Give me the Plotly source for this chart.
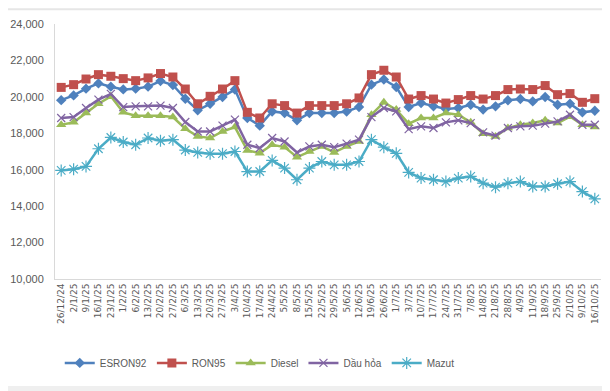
import plotly.graph_objects as go

dates = ["26/12/24", "2/1/25", "9/1/25", "16/1/25", "23/1/25", "1/2/25", "6/2/25", "13/2/25",
         "20/2/25", "27/2/25", "6/3/25", "13/3/25", "20/3/25", "27/3/25", "3/4/25", "10/4/25",
         "17/4/25", "24/4/25", "5/5/25", "8/5/25", "15/5/25", "22/5/25", "29/5/25", "5/6/25",
         "12/6/25", "19/6/25", "26/6/25", "1/7/25", "3/7/25", "10/7/25", "17/7/25", "24/7/25",
         "31/7/25", "7/8/25", "14/8/25", "21/8/25", "28/8/25", "4/9/25", "11/9/25", "18/9/25",
         "25/9/25", "2/10/25", "9/10/25", "16/10/25"]

esron92 = [19820, 20080, 20450, 20740, 20560, 20410, 20450, 20560, 20870, 20650,
           19900, 19260, 19620, 19990, 20400, 18840, 18420, 19200, 19110, 18710,
           19110, 19110, 19110, 19200, 19440, 20670, 20950, 20540, 19440, 19660,
           19480, 19330, 19390, 19570, 19300, 19480, 19810, 19880, 19750, 19990,
           19570, 19620, 19150, 19240]

ron95 = [20520, 20670, 20980, 21220, 21130, 21000, 20890, 21040, 21280, 21090,
         20430, 19620, 20030, 20430, 20890, 19150, 18840, 19620, 19520, 19110,
         19520, 19520, 19520, 19620, 19940, 21220, 21460, 21090, 19880, 20070,
         19880, 19660, 19850, 20070, 19880, 20070, 20400, 20430, 20400, 20620,
         20120, 20180, 19700, 19900]

diesel = [18470, 18600, 19110, 19620, 20030, 19150, 18960, 18960, 18960, 18890,
          18250, 17830, 17740, 18100, 18340, 17060, 16910, 17370, 17240, 16690,
          17000, 17280, 16950, 17280, 17550, 19020, 19700, 19300, 18530, 18840,
          18840, 19110, 19020, 18600, 17980, 17830, 18290, 18470, 18560, 18710,
          18560, 18920, 18470, 18340]

dau_hoa = [18840, 18890, 19390, 19850, 20160, 19440, 19480, 19480, 19520, 19390,
           18620, 18100, 18100, 18420, 18750, 17370, 17190, 17740, 17550, 16950,
           17280, 17370, 17240, 17430, 17650, 18890, 19390, 19200, 18230, 18380,
           18290, 18600, 18710, 18560, 18050, 17870, 18290, 18380, 18420, 18530,
           18650, 19020, 18470, 18470]

mazut = [15960, 16030, 16180, 17150, 17770, 17520, 17370, 17740, 17590, 17650,
         17080, 16950, 16880, 16880, 17000, 15900, 15900, 16510, 16090, 15450,
         16090, 16450, 16270, 16270, 16450, 17650, 17240, 16900, 15850, 15540,
         15450, 15350, 15540, 15630, 15260, 15040, 15260, 15350, 15080, 15080,
         15230, 15350, 14800, 14400]

y_ticks = [10000, 12000, 14000, 16000, 18000, 20000, 22000, 24000]

series = [
    ("ESRON92", esron92, "#4F81BD", dict(symbol="diamond", size=8)),
    ("RON95", ron95, "#C0504D", dict(symbol="square", size=9)),
    ("Diesel", diesel, "#9BBB59", dict(symbol="triangle-up", size=9)),
    ("Dầu hỏa", dau_hoa, "#8064A2", dict(symbol="x-thin", size=8, line=dict(width=1.2, color="#8064A2"))),
    ("Mazut", mazut, "#4BACC6", dict(symbol="asterisk", size=10, line=dict(width=1.2, color="#4BACC6"))),
]

fig = go.Figure()
for name, vals, color, mk in series:
    marker = dict(color=color, **mk)
    fig.add_trace(go.Scatter(
        x=list(range(len(dates))), y=vals, name=name, mode="lines+markers",
        line=dict(color=color, width=2.5), marker=marker,
    ))

font = "Liberation Sans, Arial, sans-serif"
fig.update_layout(
    width=602, height=383,
    margin=dict(l=47, r=9, t=16, b=112, autoexpand=False),
    paper_bgcolor="white", plot_bgcolor="white",
    font=dict(family=font, color="#595959"),
    showlegend=True,
    legend=dict(orientation="h", x=0.375, xanchor="center", y=-0.329, yanchor="middle",
                font=dict(size=10, color="#595959"), itemwidth=30,
                traceorder="normal", tracegroupgap=0),
    xaxis=dict(
        tickmode="array", tickvals=list(range(len(dates))), ticktext=dates,
        tickangle=-90, tickfont=dict(size=9, color="#595959", family="DejaVu Sans, sans-serif"),
        range=[-0.5, len(dates) - 0.5], showgrid=False, zeroline=False,
        showline=True, linecolor="#D9D9D9", linewidth=1, ticks="", ticklen=0,
        automargin=False,
    ),
    yaxis=dict(
        range=[10000, 24000], tickvals=y_ticks, tickformat=",",
        tickfont=dict(size=11, color="#595959"),
        showgrid=False, zeroline=False, showline=True, linecolor="#D9D9D9",
        linewidth=1, ticks="", ticklabelstandoff=8, automargin=False,
    ),
    shapes=[
        dict(type="line", xref="paper", yref="paper", x0=-0.1, x1=1.02,
             y0=1.058, y1=1.058, line=dict(color="#E6E6E6", width=2)),
        dict(type="rect", xref="paper", yref="paper", x0=-0.1, x1=1.02,
             y0=-0.447, y1=-0.42, fillcolor="#EFEFEF", line=dict(width=0)),
    ],
)

fig.write_html("out.html")
